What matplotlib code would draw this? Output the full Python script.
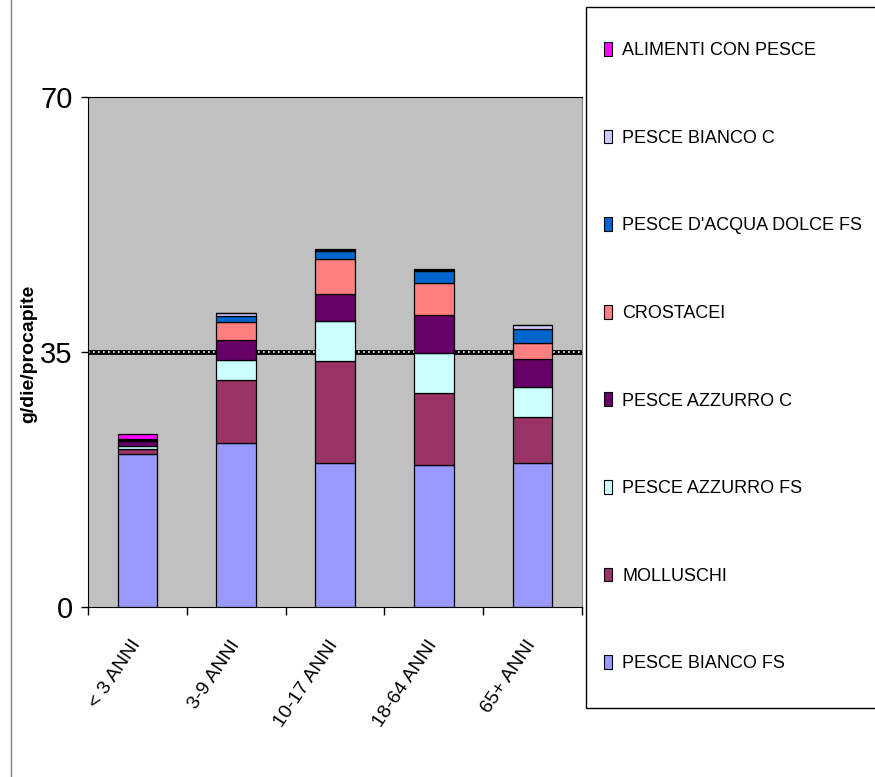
import matplotlib
matplotlib.use("Agg")
from matplotlib import pyplot as plt
from matplotlib.patches import Patch, Rectangle
from matplotlib.lines import Line2D
import numpy as np

plt.rcParams['font.family'] = ['Liberation Sans', 'DejaVu Sans']

# Consumo di pesce per fascia d'eta (g/die/procapite) ==========================

fasce = ["< 3 ANNI", "3-9 ANNI", "10-17 ANNI", "18-64 ANNI", "65+ ANNI"]

pesce_bianco_fs = [21.0, 22.5, 19.8, 19.5, 19.8]
molluschi = [0.7, 8.6, 13.9, 9.9, 6.3]
pesce_azzurro_fs = [0.4, 2.8, 5.5, 5.5, 4.1]
pesce_azzurro_c = [0.7, 2.7, 3.7, 5.2, 3.8]
crostacei = [0.1, 2.5, 4.9, 4.4, 2.2]
pesce_acqua_dolce_fs = [0.1, 0.9, 1.0, 1.6, 1.9]
pesce_bianco_c = [0.1, 0.35, 0.2, 0.15, 0.6]
alimenti_con_pesce = [0.7, 0.05, 0.2, 0.15, 0.05]

# stacked from the bottom up
serie = [
    ("PESCE BIANCO FS", pesce_bianco_fs, "#9999FF"),
    ("MOLLUSCHI", molluschi, "#993366"),
    ("PESCE AZZURRO FS", pesce_azzurro_fs, "#CCFFFF"),
    ("PESCE AZZURRO C", pesce_azzurro_c, "#660066"),
    ("CROSTACEI", crostacei, "#FF8080"),
    ("PESCE D'ACQUA DOLCE FS", pesce_acqua_dolce_fs, "#0066CC"),
    ("PESCE BIANCO C", pesce_bianco_c, "#CCCCFF"),
    ("ALIMENTI CON PESCE", alimenti_con_pesce, "#FF00FF"),
]

W, H = 875, 777
fig = plt.figure(figsize=(W / 100, H / 100), dpi=100)
ax = fig.add_axes([88 / W, 1 - 607 / H, 494 / W, 510 / H])
ax.set_facecolor("#C0C0C0")

x = np.arange(len(fasce))
base = np.zeros(len(fasce))
handles = []
for nome, valori, colore in serie:
    ax.bar(x, valori, width=0.4, bottom=base, color=colore,
           edgecolor="black", linewidth=0.9, zorder=3)
    base += np.array(valori)
    handles.append(Patch(facecolor=colore, edgecolor="black", linewidth=0.8, label=nome))

# dotted reference line at 35
ax.axhline(35, color="black", lw=3.5, zorder=1)
ax.axhline(35, color="white", lw=1.2, ls=(0, (1, 2)), zorder=2)

ax.set_xlim(-0.5, len(fasce) - 0.5)
ax.set_ylim(0, 70)

ax.set_yticks([0, 35, 70])
ax.tick_params(axis="y", direction="out", length=5, width=1, pad=6, labelsize=21)

# ticks at category boundaries, labels centred under the bars
ax.set_xticks(np.arange(-0.5, len(fasce), 1.0))
ax.set_xticklabels([])
ax.set_xticks(x, minor=True)
ax.set_xticklabels(fasce, minor=True)
ax.tick_params(axis="x", which="major", direction="out", length=6, width=1)
ax.tick_params(axis="x", which="minor", length=0, pad=25, labelsize=14)
plt.setp(ax.get_xticklabels(minor=True), rotation=56, ha="right",
         va="center", rotation_mode="anchor")

for s in ["left", "bottom", "top"]:
    ax.spines[s].set_color("black")
ax.spines["right"].set_color("#808080")

ax.set_ylabel("g/die/procapite", fontsize=14, fontweight="bold")
ax.yaxis.set_label_coords(-0.103, 0.496)

# legend box, open on the right side
fig.add_artist(Rectangle((586 / W, 1 - 708 / H), 0.5, 701 / H, transform=fig.transFigure,
                         fill=False, edgecolor="black", lw=1))
fig.legend(handles[::-1], [h.get_label() for h in handles[::-1]],
           loc="upper left", bbox_to_anchor=(604 / W, 1 - 42 / H),
           frameon=False, fontsize=13, handlelength=0.45, handleheight=0.8,
           handletextpad=0.55, labelspacing=3.9, borderpad=0, borderaxespad=0)

# slide margin line on the left
fig.add_artist(Line2D([11 / W, 11 / W], [0, 1], color="#808080", lw=1))

fig.savefig("out.png", dpi=100)
